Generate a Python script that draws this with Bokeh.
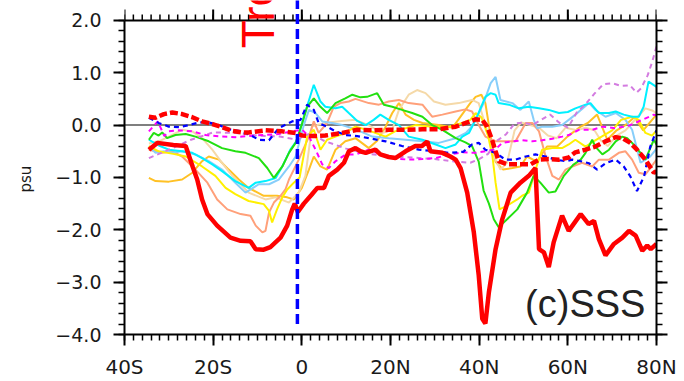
import math
from bokeh.plotting import figure
from bokeh.models import Range1d, LinearAxis, FixedTicker, Span, Label, Arrow, Title
from bokeh.embed import file_html
from bokeh.resources import INLINE

# ---------------- data (latitude in degrees, negative = S; SSS anomaly in psu) -------------
red_lat = [-34.5, -32.6, -29, -26.2, -24.6, -23.6, -22.5, -21.3, -19.1, -16.1, -13.8, -11.6, -10.4, -8.6,
           -7.1, -4.8, -3.3, -2.2, -1.6, -0.9, 0.45, 2.2, 3.5, 5.0, 6.1, 8.0, 9.5, 10.6, 12.1, 13.2, 14.4,
           16.6, 17.7, 19.6, 21.1, 23.4, 25.6, 27.1, 28.3, 29.0, 31.7, 33.5, 34.7, 35.8, 37.3, 38.8, 39.9,
           40.7, 41.4, 42.2, 43.7, 45.2, 47.1, 49.3, 51.2, 52.7, 53.5, 54.6, 55.7, 56.8, 58.7, 60.2, 62.9,
           64.7, 65.9, 67.0, 68.5, 70.4, 72.3, 73.8, 75.3, 76.8, 77.9, 78.7, 80.0]
red_val = [-0.47, -0.34, -0.38, -0.40, -0.80, -1.04, -1.42, -1.70, -1.92, -2.15, -2.21, -2.22, -2.37, -2.38,
           -2.33, -2.15, -1.92, -1.62, -1.50, -1.66, -1.50, -1.33, -1.20, -1.20, -0.97, -0.85, -0.72, -0.50,
           -0.44, -0.50, -0.53, -0.47, -0.56, -0.61, -0.63, -0.50, -0.40, -0.40, -0.31, -0.50, -0.53, -0.60,
           -0.66, -0.82, -1.29, -2.05, -2.87, -3.70, -3.79, -3.19, -2.37, -1.80, -1.29, -1.10, -0.97, -0.82,
           -2.37, -2.43, -2.71, -2.24, -1.73, -2.02, -1.70, -1.89, -1.83, -2.18, -2.49, -2.27, -2.15, -2.02,
           -2.11, -2.40, -2.30, -2.37, -2.27]

reddash_lat = [-34.5, -33, -31.1, -29.2, -27, -24.7, -22.5, -20.2, -18, -15.7, -13.5, -12, -8.2, -4.4, -1.4,
               0.1, 2.3, 5.3, 9.1, 12.5, 15.9, 19.6, 23.4, 27.2, 30.9, 34.7, 37.3, 39.2, 40.7, 41.8, 42.9,
               43.7, 44.4, 46.3, 49, 51.6, 53.5, 55.7, 58, 60.2, 61.7, 64, 66.2, 68.5, 70.8, 72.3, 74.1,
               75.6, 77.5, 79.4, 80]
reddash_val = [0.16, 0.14, 0.21, 0.24, 0.21, 0.15, 0.07, 0.02, -0.04, -0.11, -0.14, -0.14, -0.10, -0.12,
               -0.15, -0.20, -0.21, -0.20, -0.15, -0.09, -0.10, -0.09, -0.09, -0.08, -0.08, -0.03, 0.05,
               0.11, 0.10, -0.03, -0.28, -0.50, -0.69, -0.75, -0.75, -0.75, -0.66, -0.65, -0.66, -0.62,
               -0.52, -0.47, -0.41, -0.31, -0.23, -0.25, -0.34, -0.47, -0.66, -0.91, -0.88]

blue_lat = [-34.5, -32.3, -30, -27.7, -25.5, -23.2, -21, -18.7, -16.5, -13.5, -11.6, -9.7, -7.4, -5.2, -2.2,
            -0.3, 1.2, 2.7, 3.8, 5.7, 7.6, 9.9, 12.5, 15.1, 18.9, 22.6, 26.4, 30.2, 33.2, 36.4, 38.4, 39.9,
            41.4, 43.7, 45.9, 48.2, 50.5, 52.7, 55, 57.2, 59.5, 61, 62.9, 64.8, 66.6, 68.5, 70.8, 72.6,
            74.1, 75.6, 77.2, 78.6, 80]
blue_val = [0.14, 0.04, -0.03, -0.04, 0.0, 0.05, 0.05, 0.0, -0.08, -0.12, -0.19, -0.28, -0.29, -0.06, 0.07,
            0.10, 0.39, 0.29, 0.04, -0.03, -0.12, -0.19, -0.21, -0.25, -0.31, -0.40, -0.47, -0.50, -0.53,
            -0.51, -0.37, -0.34, -0.47, -0.53, -0.66, -0.66, -0.60, -0.56, -0.60, -0.66, -0.69, -0.66,
            -0.69, -0.73, -0.85, -0.73, -0.66, -0.79, -0.98, -1.26, -0.98, -0.41, -0.10]

magenta_lat = [-34.5, -32.5, -31, -30, -27.7, -24.7, -21.7, -18, -15, -12, -8.9, -5.2, -2.2, 0.1, 1.6, 3.1,
               4.6, 6.1, 7.6, 9.9, 12.1, 15.1, 18.1, 21.1, 24.1, 27.2, 30.2, 33.2, 36.2, 39.2, 41.4, 43.7,
               45.2, 47.5, 49.7, 52, 54.2, 56.5, 58.7, 60.2, 62.5, 65.5, 67.8, 70.8, 73.8, 76.8, 79.4, 80]
magenta_val = [-0.12, 0.07, -0.21, -0.12, -0.10, -0.12, -0.19, -0.22, -0.23, -0.21, -0.19, -0.17, -0.12,
               -0.09, -0.22, -0.47, -0.75, -0.82, -0.69, -0.56, -0.56, -0.47, -0.56, -0.64, -0.66, -0.65,
               -0.63, -0.56, -0.52, -0.53, -0.50, -0.46, -0.34, -0.31, -0.29, -0.31, -0.29, -0.26, -0.22,
               -0.19, -0.09, -0.09, -0.03, -0.06, -0.01, 0.10, 0.20, 0.18]

violet_lat = [-34.5, -30, -25, -20, -15, -10, -5, -1, 2, 5, 10, 15, 20, 25, 30, 35, 38, 40, 42, 44, 46, 48,
              50, 52, 54, 56, 58, 60, 62, 64, 66, 68, 70, 72, 74, 75.5, 76.5, 78, 79, 80]
violet_val = [-0.63, -0.47, -0.28, -0.14, -0.15, -0.20, -0.22, -0.28, -0.15, -0.30, -0.45, -0.55, -0.60,
              -0.62, -0.65, -0.70, -0.72, -0.65, -0.55, -0.30, -0.18, 0.03, 0.05, 0.0, 0.10, 0.20, 0.05,
              -0.05, 0.24, 0.40, 0.60, 0.78, 0.80, 0.75, 0.76, 0.62, 0.70, 0.95, 1.20, 1.50]

green_lat = [-34.5, -33.4, -32.3, -31.5, -30.4, -28.5, -26.2, -24, -21, -18, -15, -12.7, -9.7, -7.8, -6.3,
             -4.4, -2.9, -1.4, 0.1, 1.2, 2.7, 4.2, 5.7, 7.6, 9.8, 11.4, 13.2, 14.7, 17, 18.5, 20.4, 22.6,
             24.9, 27.2, 29.4, 31.7, 34.7, 36.9, 38.4, 39.9, 41, 42.2, 43.3, 44.4, 46.3, 48.6, 50.8, 52.3,
             53.8, 55.7, 57.2, 59.1, 61.2, 62.9, 64, 65.5, 66.2, 67.8, 69.3, 70.8, 72.3, 73.4, 74.5, 76.4,
             77.5, 78.6, 79.4, 80]
green_val = [-0.28, -0.15, -0.20, -0.14, -0.25, -0.19, -0.17, -0.22, -0.31, -0.44, -0.50, -0.53, -0.63,
             -0.82, -1.01, -0.79, -0.53, -0.34, 0.04, 0.35, 0.51, 0.35, 0.23, 0.42, 0.51, 0.58, 0.53, 0.54,
             0.61, 0.39, 0.35, 0.29, 0.23, 0.16, 0.0, -0.09, -0.25, -0.33, -0.40, -0.70, -1.25, -1.50,
             -1.80, -1.95, -1.80, -1.61, -1.29, -0.97, -1.10, -1.29, -1.27, -0.97, -0.76, -0.66, -0.53,
             -0.28, -0.41, -0.56, -0.47, -0.31, -0.22, -0.25, -0.34, -0.53, -0.66, -0.44, -0.28, -0.37]

cyan_lat = [-34.5, -32, -30, -27, -24.7, -22.5, -20.2, -18, -15, -12, -10.4, -8.2, -5.9, -4.4, -2.6, -1,
            0.45, 2.7, 4.2, 5.3, 7.6, 9.1, 10.6, 12.5, 14.4, 16.2, 17.7, 19.6, 21.9, 24.1, 27.2, 30.2, 32.4,
            34.7, 36.2, 37.7, 39.2, 41.4, 42.6, 43.7, 44.4, 46.7, 48.9, 51.2, 53.5, 55.7, 58, 60, 61.7, 64,
            65.1, 67, 69.3, 70.8, 72.6, 74.5, 76, 77.1, 78.2, 80]
cyan_val = [-0.28, -0.40, -0.47, -0.50, -0.53, -0.63, -0.75, -0.88, -1.07, -1.20, -1.10, -1.07, -1.01, -0.79,
            -0.47, -0.28, 0.16, 0.77, 0.45, 0.35, 0.32, 0.35, 0.23, 0.08, 0.0, 0.10, 0.20, 0.10, 0.0, -0.22,
            -0.28, -0.37, -0.44, -0.37, -0.22, -0.15, 0.10, 0.54, 0.61, 0.58, 0.42, 0.39, 0.32, 0.35, 0.32,
            0.29, 0.23, 0.25, 0.32, 0.39, 0.42, 0.23, 0.23, 0.26, 0.20, 0.16, 0.16, 0.35, 0.83, 0.73]

skyblue_lat = [-34.5, -33, -31.1, -29.2, -27, -24, -21, -18, -15, -12.7, -9.7, -7.4, -5.2, -2.9, -1.4, 0.45,
               1.6, 3.1, 4.6, 6.8, 9.1, 11.4, 13.2, 15.9, 19.6, 23.4, 27.2, 30.9, 34.7, 37, 38, 39.2, 41,
               42.6, 43.7, 44.8, 47.5, 49.3, 51.2, 52.3, 53.1, 54.2, 56.5, 58.7, 60.2, 61.7, 64.8, 66.2,
               68.5, 70.8, 73, 74.5, 76.4, 77.5, 78.6, 80]
skyblue_val = [-0.41, -0.53, -0.50, -0.53, -0.50, -0.56, -0.69, -0.85, -1.10, -1.29, -1.13, -1.13, -1.04,
               -0.79, -0.60, 0.0, 0.29, 0.23, 0.07, 0.04, 0.0, -0.06, -0.12, -0.22, -0.25, -0.28, -0.31,
               -0.34, -0.25, -0.15, -0.06, 0.10, 0.42, 0.80, 0.92, 0.48, 0.42, 0.29, 0.45, 0.10, -0.06,
               -0.03, -0.03, 0.0, 0.10, 0.20, 0.42, 0.29, 0.16, 0.23, 0.10, -0.09, -0.72, -0.66, -0.60, -0.45]

salmon_lat = [-34.5, -31.5, -29.2, -27, -24, -21.3, -19.1, -16.8, -13.8, -11.6, -10.4, -8.9, -8.2, -7.4,
              -6.3, -4.8, -3.7, -2.9, -0.7, 1.6, 2.7, 3.8, 5.7, 7.2, 8.7, 10.6, 12.1, 15.1, 17.4, 19.6, 21.9,
              24.1, 27.2, 29.4, 31.7, 34.7, 36.9, 38.4, 39.9, 41.4, 43.7, 45.9, 48.2, 50.5, 52, 53.5, 55,
              56.5, 58, 59.5, 61, 63.2, 65.5, 67, 69.3, 71.5, 73, 74.5, 76, 77.5, 78.6, 80]
salmon_val = [-0.47, -0.53, -0.50, -0.60, -0.85, -1.10, -1.42, -1.61, -1.70, -1.73, -1.92, -2.05, -2.02,
              -1.67, -1.48, -1.35, -1.23, -1.04, -0.66, -0.22, 0.07, -0.15, 0.04, 0.35, 0.42, 0.45, 0.50,
              0.42, 0.39, 0.45, 0.48, 0.42, 0.39, 0.16, 0.20, 0.26, 0.30, 0.26, 0.0, -0.22, -0.31, -0.31,
              -0.31, 0.04, 0.04, -0.12, -0.60, -0.97, -1.04, -0.85, -0.79, -0.72, -0.79, -0.66, -0.66,
              -0.53, -0.50, -0.66, -0.91, -0.94, -0.82, -0.66]

wheat_lat = [-34.5, -32, -30, -27, -24.7, -22.5, -20.2, -18, -15.7, -13.5, -12, -8.2, -5.9, -2.9, -0.7, 0.8,
             2.3, 3.5, 6, 9, 12.1, 15, 18.1, 20.4, 21.9, 24.1, 26, 27.9, 29.8, 32.4, 35.4, 36.9, 38.4, 39.9,
             42.2, 43.7, 44.8, 46.3, 48, 49.5, 51.5, 53.5, 55.5, 57.5, 59.5, 62, 64, 66, 67.5, 69, 71, 73,
             75.5, 77.5, 79, 80]
wheat_val = [-0.35, -0.30, -0.22, -0.09, -0.12, -0.25, -0.47, -0.72, -0.97, -1.16, -1.29, -1.42, -1.38,
             -1.48, -1.29, -0.97, -0.03, 0.0, 0.05, 0.08, 0.10, 0.0, -0.15, -0.09, 0.29, 0.58, 0.67, 0.61,
             0.45, 0.39, 0.42, 0.45, 0.48, 0.42, -0.22, -0.66, -0.85, -0.72, -0.10, 0.05, 0.0, -0.05, -0.20,
             -0.25, -0.05, -0.10, -0.05, -0.10, -0.30, -0.40, -0.20, -0.10, 0.13, 0.32, 0.28, 0.23]

yellow_lat = [-34.5, -32.3, -29, -26.2, -22.5, -19.5, -17.2, -15, -12, -8.6, -7.4, -6.7, -5.6, -4.4, -3.3,
              -1.8, -0.5, 1.2, 2.7, 4.2, 5.7, 7.6, 9.8, 12.1, 15, 18.9, 21, 23.4, 25.6, 29.4, 33.2, 36.2, 38,
              39.2, 40.5, 42, 43, 43.7, 44.6, 46.3, 48.6, 49.7, 51.2, 52.7, 54.2, 56.5, 58.7, 60.2, 61.7, 64,
              66, 68, 70, 72, 74.5, 76, 77.5, 79, 80]
yellow_val = [-0.40, -0.50, -0.55, -0.60, -0.79, -0.97, -1.20, -1.32, -1.45, -1.51, -1.64, -1.86, -1.61,
              -1.38, -1.23, -1.10, -1.00, -0.22, -0.09, -0.47, -0.28, -0.22, -0.15, -0.03, -0.10, -0.22,
              -0.12, -0.06, 0.0, -0.03, -0.03, 0.04, 0.10, 0.23, 0.15, -0.20, -0.60, -1.10, -1.61, -1.54,
              -1.42, -1.35, -1.29, -0.85, -0.47, -0.44, -0.44, -0.37, -0.28, -0.41, -0.30, -0.20, -0.10,
              0.10, 0.16, 0.10, -0.15, -0.20, -0.10]

orange_lat = [-34.5, -33, -30, -27, -24.7, -22.5, -21, -18.7, -16.5, -14.2, -12, -8.6, -5.6, -3.3, -1.8, 0,
              1.6, 2.7, 4.2, 5.7, 7.6, 9.8, 12.1, 15.1, 17, 18.9, 20.4, 21.9, 23.4, 25.3, 27.2, 30.9, 34,
              36.9, 38, 39.2, 40.5, 41.4, 42.6, 43.7, 45.4, 47.5, 49.3, 50.8, 53, 55.3, 57.6, 59.9, 62.9,
              64.5, 66.6, 68.9, 71, 73, 75, 77, 79, 80]
orange_val = [-1.01, -1.07, -1.08, -1.04, -0.91, -0.69, -0.60, -0.66, -0.85, -1.04, -1.20, -1.35, -1.35,
              -1.38, -1.42, -1.20, -0.85, -0.60, -0.79, -0.85, -0.47, -0.31, -0.25, -0.44, -0.30, -0.03,
              0.23, 0.42, 0.20, 0.10, 0.04, 0.0, -0.05, 0.29, 0.42, 0.54, 0.58, 0.42, -0.22, -0.70, -0.85,
              -0.82, -0.79, -0.60, -0.70, -0.41, -0.41, -0.22, -0.03, 0.04, 0.20, -0.28, -0.10, 0.0, 0.15,
              -0.10, 0.10, 0.20]

eq_line_lat = -1.0           # position of the vertical dashed marker
eq_line_bottom = -3.8
x_ticks = [-40, -20, 0, 20, 40, 60, 80]
x_minor = list(range(-40, 81, 2))
x_tick_labels = ["40S", "20S", "0", "20N", "40N", "60N", "80N"]
y_ticks = [-4, -3, -2, -1, 0, 1, 2]
y_minor = [round(-4 + 0.2 * i, 1) for i in range(31)]
y_tick_labels = ["\u22124.0", "\u22123.0", "\u22122.0", "\u22121.0", "0.0", "1.0", "2.0"]
y_lo, y_hi = -4.0, 2.0

# ---------------- figure -----------------------------------------------------------------
# The frame reaches the top edge of the page so that the vertical marker and the rotated
# caption can run above the y = 2.0 boundary, as in the reference.
H, W = 381, 684
top_pad, bottom_pad, left_pad, right_pad = 20, 45, 124, 28
px_per_unit = (H - top_pad - bottom_pad) / (y_hi - y_lo)
y_view_top = y_hi + top_pad / px_per_unit

p = figure(width=W, height=H, output_backend="svg", toolbar_location=None, title=None,
           x_range=Range1d(-40, 80), y_range=Range1d(y_lo, y_view_top),
           min_border_left=left_pad, min_border_right=right_pad, min_border_top=0,
           min_border_bottom=bottom_pad)
p.xgrid.visible = False
p.ygrid.visible = False
p.outline_line_color = None
p.background_fill_color = "white"
p.border_fill_color = "white"

xt = FixedTicker(ticks=x_ticks, minor_ticks=x_minor)
yt = FixedTicker(ticks=y_ticks, minor_ticks=y_minor)

def style_axis(ax):
    ax.axis_line_width = 2
    ax.axis_line_color = "black"
    ax.major_tick_line_width = 2
    ax.minor_tick_line_width = 1.5
    ax.major_tick_line_color = "black"
    ax.minor_tick_line_color = "black"
    ax.major_tick_out = 11
    ax.major_tick_in = 0
    ax.minor_tick_out = 6
    ax.minor_tick_in = 0

xa = p.xaxis[0]
xa.ticker = xt
xa.major_label_overrides = {t: s for t, s in zip(x_ticks, x_tick_labels)}
style_axis(xa)
xa.major_label_text_font = "DejaVu Sans"
xa.major_label_text_font_size = "20px"
xa.major_label_text_color = "#1a1a1a"
xa.major_label_standoff = 9

ya = p.yaxis[0]
ya.ticker = yt
ya.bounds = (y_lo, y_hi)
ya.major_label_overrides = {t: s for t, s in zip(y_ticks, y_tick_labels)}
style_axis(ya)
ya.major_label_text_font = "DejaVu Sans"
ya.major_label_text_font_size = "19px"
ya.major_label_text_color = "#1a1a1a"
ya.major_label_standoff = 12

# y-axis title, placed in the left side panel and centred on the 2.0 .. -4.0 span
# (the frame itself extends above 2.0)
frame_h = H - bottom_pad
psu_start = (top_pad + frame_h) / 2 + 16     # pixels down from the top where the rotated text starts
p.add_layout(Title(text="psu", align="left", offset=frame_h - psu_start, vertical_align="top",
                   standoff=31, text_font="DejaVu Sans", text_font_size="15px",
                   text_font_style="normal", text_color="#1a1a1a"), "left")

right = LinearAxis(ticker=yt, bounds=(y_lo, y_hi))
style_axis(right)
right.major_label_text_color = None
right.major_label_text_font_size = "1px"
right.major_label_standoff = 0
p.add_layout(right, "right")

# top boundary at y = 2.0 with outward ticks (drawn from the x tick arrays)
maj_len = 11 / px_per_unit
min_len = 6 / px_per_unit
p.line([x_ticks[0], x_ticks[-1]], [y_hi, y_hi], line_color="black", line_width=2)
p.segment(x0=x_ticks, y0=[y_hi] * len(x_ticks), x1=x_ticks, y1=[y_hi + maj_len] * len(x_ticks),
          line_color="black", line_width=2)
p.segment(x0=x_minor, y0=[y_hi] * len(x_minor), x1=x_minor, y1=[y_hi + min_len] * len(x_minor),
          line_color="black", line_width=1.5)

p.add_layout(Span(location=0, dimension="width", line_color="#555555", line_width=1.5, level="underlay"))

# ---------------- lines --------------------------------------------------------------------
thin = [
    (orange_lat, orange_val, "#FFC125"),
    (wheat_lat, wheat_val, "#F5D9A8"),
    (salmon_lat, salmon_val, "#FFA07A"),
    (skyblue_lat, skyblue_val, "#87CEFA"),
    (yellow_lat, yellow_val, "#FFF000"),
    (cyan_lat, cyan_val, "#00F0FF"),
    (green_lat, green_val, "#22E010"),
]
for la, va, c in thin:
    p.line(la, va, line_color=c, line_width=2)

p.line(violet_lat, violet_val, line_color="#D37BE0", line_width=2, line_dash="5 4")
p.line(magenta_lat, magenta_val, line_color="#FF00FF", line_width=2, line_dash="5 4")
p.line(blue_lat, blue_val, line_color="#0000FF", line_width=2.2, line_dash="5 4")
p.line(red_lat, red_val, line_color="#FF0000", line_width=4.5)
p.line(reddash_lat, reddash_val, line_color="#FF0000", line_width=4.5, line_dash="8 3")

p.add_layout(Arrow(end=None, x_start=eq_line_lat, y_start=eq_line_bottom, x_end=eq_line_lat,
                   y_end=y_view_top + 0.2, line_color="#0000FF", line_width=3.5, line_dash="10 5"))

p.add_layout(Label(x=-10.0, y=1.47, text="Tropics", angle=math.pi / 2, text_color="#FF0000",
                   text_font="Liberation Sans", text_font_size="46px",
                   text_baseline="alphabetic", text_align="left"))
p.add_layout(Label(x=77.5, y=-3.41, text="(c)SSS", text_color="#222222",
                   text_font="Liberation Sans", text_font_size="38px",
                   text_baseline="alphabetic", text_align="right"))

open("out.html", "w").write(file_html(p, INLINE))
